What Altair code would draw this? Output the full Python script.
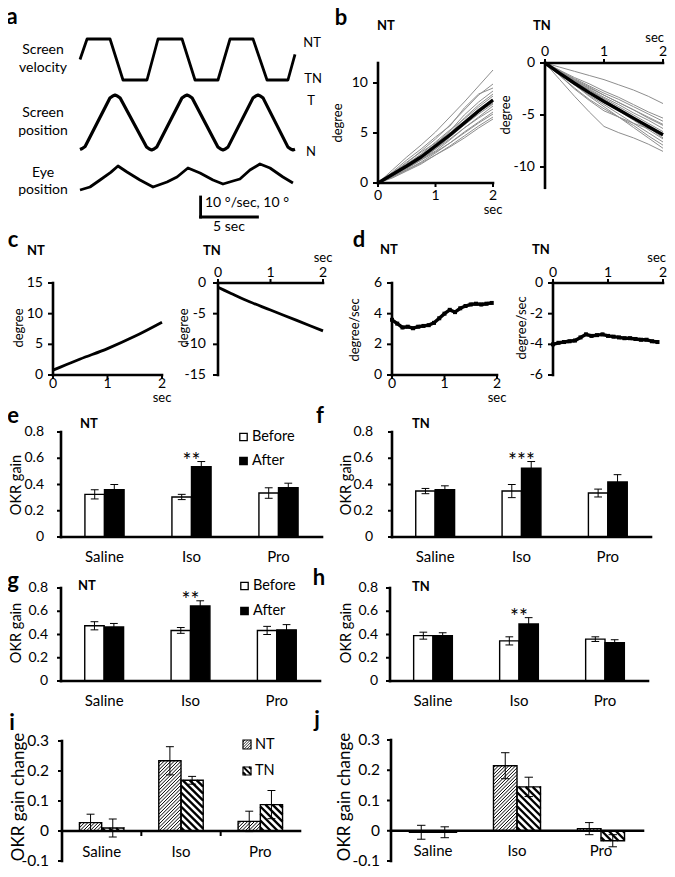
import altair as alt
import pandas as pd

OFF = 8
FONT = "Lato"

# ---------------- data ----------------
# panel a : stimulus / eye traces (time in s)
a_vel_t = [0, 0.62, 2.64, 3.78, 5.89, 6.86, 8.97, 10.11, 12.13, 13.19, 15.21, 16.44, 18.28, 18.9]
a_vel_v = [0, 10, 10, -10, -10, 10, 10, -10, -10, 10, 10, -10, -10, 2.5]
a_pos_t = [0, 0.2, 0.45, 2.63, 2.88, 3.08, 3.28, 3.53, 5.85, 6.1, 6.3, 6.5, 6.75,
           8.96, 9.21, 9.41, 9.61, 9.86, 12.12, 12.37, 12.57, 12.77, 13.02,
           15.2, 15.45, 15.65, 15.85, 16.1, 18.27, 18.52, 18.72, 18.9]
a_pos_v = [-13.5, -13.0, -12.0, 12.2, 13.3, 13.75, 13.3, 12.2, -12.2, -13.3, -13.75, -13.3, -12.2,
           12.2, 13.3, 13.75, 13.3, 12.2, -12.2, -13.3, -13.75, -13.3, -12.2,
           12.2, 13.3, 13.75, 13.3, 12.2, -12.2, -13.3, -13.75, -13.4]
a_eye_t = [0, 0.88, 1.76, 2.7, 3.34, 4.13, 5.27, 6.42, 7.65, 8.53, 9.49, 10.55, 11.69, 12.57, 13.45,
           14.06, 14.94, 15.82, 16.7, 17.84, 18.72]
a_eye_v = [-7.0, -5.5, -2.0, 1.8, 5.0, 2.0, -2.0, -5.5, -3.0, -0.5, 4.0, 1.5, -2.0, -4.0, -2.5,
           -1.5, 3.0, 6.0, 4.0, -0.5, -3.5]
a_bar_origin = (10.6, -20.5)   # scale bar corner (s, deg)
a_bar_len = (5, 10)            # 5 sec, 10 deg

# panel b : individual traces and mean
b_t = [0, 0.25, 0.5, 0.75, 1.0, 1.25, 1.5, 1.75, 2.0]
b_nt_traces = [
    [0, 1.3, 2.6, 3.8, 5.1, 6.6, 8.1, 9.7, 11.3],
    [0, 0.9, 2.0, 3.2, 4.4, 5.8, 7.3, 8.8, 9.9],
    [0, 1.1, 2.3, 3.4, 4.6, 5.7, 7.5, 8.9, 9.5],
    [0, 0.8, 1.7, 2.7, 3.9, 5.2, 6.8, 8.1, 9.2],
    [0, 0.7, 1.6, 2.6, 3.8, 5.0, 6.5, 7.8, 8.9],
    [0, 1.0, 1.9, 2.9, 4.1, 5.3, 6.4, 7.6, 8.7],
    [0, 0.9, 1.8, 2.8, 3.9, 5.0, 6.2, 7.4, 8.4],
    [0, 0.6, 1.4, 2.3, 3.4, 4.6, 5.9, 7.1, 8.1],
    [0, 0.8, 1.6, 2.5, 3.5, 4.6, 5.8, 6.9, 7.9],
    [0, 0.7, 1.5, 2.4, 3.2, 4.3, 5.5, 6.6, 7.7],
    [0, 0.9, 1.7, 2.5, 3.4, 4.4, 5.5, 6.5, 7.4],
    [0, 0.6, 1.3, 2.1, 3.0, 4.0, 5.1, 6.1, 7.1],
    [0, 0.7, 1.5, 2.3, 3.1, 4.0, 5.0, 6.0, 6.9],
    [0, 0.5, 1.2, 1.9, 2.8, 3.7, 4.7, 5.7, 6.6],
    [0, 0.6, 1.3, 2.0, 2.8, 3.6, 4.5, 5.5, 6.4],
    [0, 1.0, 2.1, 3.1, 4.0, 5.0, 6.1, 7.1, 8.0],
]
b_nt_mean = [0, 0.85, 1.7, 2.6, 3.7, 4.8, 6.0, 7.2, 8.3]
b_tn_traces = [
    [0, -0.4, -0.8, -1.2, -1.6, -2.1, -2.6, -3.2, -3.9],
    [0, -0.7, -1.4, -2.0, -2.7, -3.3, -4.0, -4.7, -5.3],
    [0, -0.8, -1.5, -2.2, -2.9, -3.5, -4.2, -4.9, -5.6],
    [0, -0.9, -1.7, -2.4, -3.1, -3.8, -4.5, -5.3, -6.0],
    [0, -0.7, -1.6, -2.5, -3.3, -4.0, -4.8, -5.5, -6.3],
    [0, -0.9, -1.8, -2.6, -3.4, -4.2, -5.0, -5.8, -6.6],
    [0, -1.0, -2.0, -2.8, -3.6, -4.4, -5.3, -6.1, -7.0],
    [0, -0.9, -1.9, -2.9, -3.8, -4.6, -5.5, -6.4, -7.3],
    [0, -1.1, -2.1, -3.1, -4.0, -4.9, -5.8, -6.7, -7.6],
    [0, -1.2, -2.4, -3.5, -4.4, -5.2, -6.0, -7.0, -7.9],
    [0, -1.0, -2.1, -3.2, -4.2, -5.2, -6.2, -7.2, -8.2],
    [0, -1.6, -3.2, -4.7, -6.1, -6.7, -7.2, -7.8, -8.5],
    [0, -1.2, -2.5, -3.6, -4.6, -5.2, -5.8, -6.3, -6.8],
    [0, -0.8, -1.7, -2.6, -3.5, -4.4, -5.3, -6.2, -7.2],
    [0, -0.8, -1.6, -2.3, -3.1, -3.8, -4.5, -5.2, -5.9],
]
b_tn_mean = [0, -1.0, -1.95, -2.85, -3.7, -4.5, -5.3, -6.1, -6.9]

# panel c : model fits
c_t = [0, 0.25, 0.5, 1.0, 1.5, 2.0]
c_nt = [0.8, 1.7, 2.6, 4.3, 6.3, 8.6]
c_tn = [-0.7, -1.7, -2.7, -4.4, -6.1, -7.8]

# panel d : eye velocity
d_t = [0.0, 0.1, 0.2, 0.3, 0.4, 0.5, 0.6, 0.7, 0.8, 0.9, 1.0, 1.1, 1.2, 1.3, 1.4, 1.5, 1.6, 1.7, 1.8, 1.9]
d_nt = [3.6, 3.35, 3.1, 3.15, 3.05, 3.15, 3.2, 3.25, 3.4, 3.7, 4.0, 4.25, 4.1, 4.35, 4.5, 4.6, 4.65, 4.6, 4.65, 4.7]
d_tn = [-4.0, -3.9, -3.85, -3.8, -3.75, -3.55, -3.35, -3.45, -3.4, -3.35, -3.45, -3.5, -3.55, -3.6,
        -3.6, -3.65, -3.7, -3.7, -3.8, -3.85]

# bar panels
groups = ["Saline", "Iso", "Pro"]
e_before, e_before_err = [0.325, 0.305, 0.335], [0.035, 0.02, 0.04]
e_after, e_after_err = [0.36, 0.535, 0.375], [0.04, 0.04, 0.035]
f_before, f_before_err = [0.35, 0.35, 0.335], [0.02, 0.05, 0.03]
f_after, f_after_err = [0.36, 0.525, 0.42], [0.03, 0.05, 0.055]
g_before, g_before_err = [0.475, 0.435, 0.435], [0.035, 0.025, 0.035]
g_after, g_after_err = [0.465, 0.645, 0.44], [0.03, 0.045, 0.045]
h_before, h_before_err = [0.39, 0.345, 0.36], [0.03, 0.035, 0.02]
h_after, h_after_err = [0.39, 0.49, 0.33], [0.025, 0.055, 0.025]
i_nt, i_nt_err = [0.028, 0.234, 0.032], [0.028, 0.047, 0.034]
i_tn, i_tn_err = [0.01, 0.169, 0.088], [0.03, 0.013, 0.047]
j_nt, j_nt_err = [-0.005, 0.215, 0.007], [0.023, 0.043, 0.02]
j_tn, j_tn_err = [-0.005, 0.145, -0.033], [0.018, 0.032, 0.02]

gain_ticks = [0, 0.2, 0.4, 0.6, 0.8]
gain_labels = ["0", "0.2", "0.4", "0.6", "0.8"]
chg_ticks = [-0.1, 0, 0.1, 0.2, 0.3]
chg_labels = ["-0.1", "0", "0.1", "0.2", "0.3"]


# ---------------- helpers ----------------
class Lin:
    def __init__(self, d0, d1, r0, r1):
        self.d0, self.d1, self.r0, self.r1 = d0, d1, r0, r1

    def px(self, v):
        return self.r0 + (v - self.d0) * (self.r1 - self.r0) / (self.d1 - self.d0)

    def val(self, p):
        return self.d0 + (p - self.r0) * (self.d1 - self.d0) / (self.r1 - self.r0)

    def scale(self):
        return alt.Scale(domain=[self.d0, self.d1], range=[self.r0 - OFF, self.r1 - OFF],
                         nice=False, zero=False)


def enc(sx, sy, xf, yf, **kw):
    d = dict(x=alt.X(xf, scale=sx.scale(), axis=None), y=alt.Y(yf, scale=sy.scale(), axis=None))
    d.update(kw)
    return d


def texts(items, size=14, weight="normal", align="center", baseline="middle", angle=0):
    df = pd.DataFrame({"x": [it[0] - OFF for it in items], "y": [it[1] - OFF for it in items],
                       "t": [it[2] for it in items]})
    mk = dict(font=FONT, fontSize=size, fontWeight=weight, align=align, baseline=baseline, color="black")
    if angle:
        mk["angle"] = angle
    return alt.Chart(df).mark_text(**mk).encode(
        x=alt.X("x:Q", scale=None, axis=None), y=alt.Y("y:Q", scale=None, axis=None), text="t:N")


def line_axes(sx, sy, xticks, yticks, ylabels, top, xdy, secdy, ydx=-9, size=14, lw=2.6,
              sec_align="center", sec_dx=0):
    x0, x1 = sx.d0, sx.d1
    lines = pd.DataFrame({"x": [x0, x0], "x2": [x0, x1], "y": [sy.d0, 0.0], "y2": [sy.d1, 0.0]})
    L = [alt.Chart(lines).mark_rule(color="black", strokeWidth=lw, strokeCap="square").encode(
        **enc(sx, sy, "x:Q", "y:Q", x2="x2:Q", y2="y2:Q"))]
    yt = pd.DataFrame({"x": [x0] * len(yticks), "y": yticks, "lab": ylabels})
    L.append(alt.Chart(yt).mark_rule(color="black", strokeWidth=2, x2Offset=-5).encode(
        **enc(sx, sy, "x:Q", "y:Q", x2="x:Q")))
    L.append(alt.Chart(yt).mark_text(font=FONT, fontSize=size, align="right", baseline="middle",
                                     dx=ydx).encode(**enc(sx, sy, "x:Q", "y:Q", text="lab:N")))
    xt = pd.DataFrame({"x": xticks, "y": [0.0] * len(xticks), "lab": [str(v) for v in xticks]})
    L.append(alt.Chart(xt).mark_rule(color="black", strokeWidth=2, y2Offset=(-4 if top else 4)).encode(
        **enc(sx, sy, "x:Q", "y:Q", y2="y:Q")))
    L.append(alt.Chart(xt).mark_text(font=FONT, fontSize=size, align="center", baseline="middle",
                                     dy=(-xdy if top else xdy)).encode(
        **enc(sx, sy, "x:Q", "y:Q", text="lab:N")))
    sec = pd.DataFrame({"x": [x1], "y": [0.0], "lab": ["sec"]})
    L.append(alt.Chart(sec).mark_text(font=FONT, fontSize=13, align=sec_align, baseline="middle",
                                      dx=sec_dx, dy=(-secdy if top else secdy)).encode(
        **enc(sx, sy, "x:Q", "y:Q", text="lab:N")))
    return L


def hatch_segments(X0, X1, Ytop, Ybot, step, direction):
    W = X1 - X0
    Hh = Ybot - Ytop
    segs = []
    if direction == "/":
        c = -W + step / 2
        while c < Hh:
            ua, ub = max(0, -c), min(W, Hh - c)
            if ub > ua:
                segs.append((X0 + ua, Ybot - (ua + c), X0 + ub, Ybot - (ub + c)))
            c += step
    else:
        c = step / 2
        while c < W + Hh:
            ua, ub = max(0, c - Hh), min(W, c)
            if ub > ua:
                segs.append((X0 + ua, Ybot - (c - ua), X0 + ub, Ybot - (c - ub)))
            c += step
    return segs


HATCH = {0: ("/", 3.4, 1.0), 1: ("\\", 7.0, 2.4)}


def bar_panel(sx, sy, s1, e1, s2, e2, half, yticks, ylabels, ydx, cat_dy, mode,
              stars=None, star_dy=3, between=None, size=14, catsize=15, capw=0.045):
    rows = []
    for gi in range(len(groups)):
        rows.append(dict(g=gi, s=0, x=gi - half, x2=gi, v=s1[gi], e=e1[gi]))
        rows.append(dict(g=gi, s=1, x=gi, x2=gi + half, v=s2[gi], e=e2[gi]))
    df = pd.DataFrame(rows)
    df["c"] = (df.x + df.x2) / 2
    df["lo"] = df.v - df.e
    df["hi"] = df.v + df.e
    df["z"] = 0.0
    df["cl"] = df.c - capw
    df["cr"] = df.c + capw
    df["fill"] = ["white" if s == 0 else "black" for s in df.s]
    L = []
    if mode == "fill":
        L.append(alt.Chart(df).mark_rect(stroke="black", strokeWidth=1.4).encode(
            **enc(sx, sy, "x:Q", "v:Q", x2="x2:Q", y2="z:Q", fill=alt.Fill("fill:N", scale=None))))
    else:
        L.append(alt.Chart(df).mark_rect(fill="white").encode(**enc(sx, sy, "x:Q", "v:Q", x2="x2:Q", y2="z:Q")))
        for s in (0, 1):
            dirn, step, w = HATCH[s]
            segs = []
            for _, r in df[df.s == s].iterrows():
                top, bot = max(r.v, 0.0), min(r.v, 0.0)
                for (ax, ay, bx, by) in hatch_segments(sx.px(r.x), sx.px(r.x2), sy.px(top), sy.px(bot), step, dirn):
                    segs.append(dict(x=sx.val(ax), y=sy.val(ay), x2=sx.val(bx), y2=sy.val(by)))
            hd = pd.DataFrame(segs)
            L.append(alt.Chart(hd).mark_rule(color="black", strokeWidth=w).encode(
                **enc(sx, sy, "x:Q", "y:Q", x2="x2:Q", y2="y2:Q")))
        L.append(alt.Chart(df).mark_rect(fill=None, stroke="black", strokeWidth=1.4).encode(
            **enc(sx, sy, "x:Q", "v:Q", x2="x2:Q", y2="z:Q")))
    # error bars
    L.append(alt.Chart(df).mark_rule(color="black", strokeWidth=1).encode(**enc(sx, sy, "c:Q", "lo:Q", y2="hi:Q")))
    caps = pd.concat([df.assign(yy=df.lo), df.assign(yy=df.hi)])
    L.append(alt.Chart(caps).mark_rule(color="black", strokeWidth=1).encode(**enc(sx, sy, "cl:Q", "yy:Q", x2="cr:Q")))
    # axes
    ax = pd.DataFrame({"x": [-0.5, -0.5], "x2": [-0.5, 2.5], "y": [sy.d0, 0.0], "y2": [sy.d1, 0.0]})
    L.append(alt.Chart(ax).mark_rule(color="black", strokeWidth=2.6, strokeCap="square").encode(
        **enc(sx, sy, "x:Q", "y:Q", x2="x2:Q", y2="y2:Q")))
    yt = pd.DataFrame({"x": [-0.5] * len(yticks), "y": yticks, "lab": ylabels})
    L.append(alt.Chart(yt).mark_rule(color="black", strokeWidth=2, x2Offset=-4).encode(
        **enc(sx, sy, "x:Q", "y:Q", x2="x:Q")))
    L.append(alt.Chart(yt).mark_text(font=FONT, fontSize=size, align="right", baseline="middle", dx=ydx).encode(
        **enc(sx, sy, "x:Q", "y:Q", text="lab:N")))
    if between:
        bt = pd.DataFrame({"x": between, "y": [0.0] * len(between)})
        L.append(alt.Chart(bt).mark_rule(color="black", strokeWidth=2, y2Offset=5).encode(
            **enc(sx, sy, "x:Q", "y:Q", y2="y:Q")))
    cat = pd.DataFrame({"x": list(range(len(groups))), "y": [0.0] * len(groups), "lab": groups})
    L.append(alt.Chart(cat).mark_text(font=FONT, fontSize=catsize, align="center", baseline="middle", dy=cat_dy).encode(
        **enc(sx, sy, "x:Q", "y:Q", text="lab:N")))
    if stars:
        sg = 1
        top = float(df[df.g == sg].hi.max())
        st = pd.DataFrame({"x": [sg], "y": [top], "lab": [stars]})
        L.append(alt.Chart(st).mark_text(font=FONT, fontSize=21, align="center", baseline="alphabetic", dy=star_dy).encode(
            **enc(sx, sy, "x:Q", "y:Q", text="lab:N")))
    return alt.layer(*L)


def gray_traces(traces, t, sx, sy):
    rows = []
    for k, tr in enumerate(traces):
        for tt, vv in zip(t, tr):
            rows.append(dict(id=k, t=tt, v=vv))
    return alt.Chart(pd.DataFrame(rows)).mark_line(color="#8e8e8e", strokeWidth=1).encode(
        **enc(sx, sy, "t:Q", "v:Q", detail="id:N"))


def black_line(t, v, sx, sy, w=3, interp="linear"):
    return alt.Chart(pd.DataFrame({"t": t, "v": v})).mark_line(
        color="black", strokeWidth=w, interpolate=interp, strokeJoin="round").encode(**enc(sx, sy, "t:Q", "v:Q"))


layers = []

# ---------------- panel a ----------------
sx_a = Lin(0, 18.9, 80, 295)
vel_y = Lin(-10, 10, 80, 39)
pos_y = Lin(-13.75, 13.75, 150, 95)
eye_y = Lin(-6, 6, 188, 164)
layers.append(black_line(a_vel_t, a_vel_v, sx_a, vel_y, w=2.8))
layers.append(black_line(a_pos_t, a_pos_v, sx_a, pos_y, w=3.2))
bo = a_bar_origin
sb = pd.DataFrame({"x": [bo[0], bo[0]], "x2": [bo[0], bo[0] + a_bar_len[0]],
                   "y": [bo[1], bo[1]], "y2": [bo[1] + a_bar_len[1], bo[1]]})
layers.append(alt.layer(
    black_line(a_eye_t, a_eye_v, sx_a, eye_y, w=2.8),
    alt.Chart(sb).mark_rule(color="black", strokeWidth=2.8, strokeCap="square").encode(
        **enc(sx_a, eye_y, "x:Q", "y:Q", x2="x2:Q", y2="y2:Q"))))
layers.append(texts([(43, 50, "Screen"), (43, 68, "velocity"), (43, 113, "Screen"), (43, 131, "position"),
                     (43, 173, "Eye"), (43, 190, "position"), (229, 227, "5 sec")], size=14))
layers.append(texts([(312, 43, "NT"), (313, 79, "TN"), (311, 101, "T"), (311, 152, "N")], size=13))
layers.append(texts([(205, 203, "10 °/sec, 10 °")], size=14, align="left"))

# ---------------- panel b ----------------
sx = Lin(0, 2, 378, 493); sy = Lin(0, 12, 183, 63)
layers.append(alt.layer(gray_traces(b_nt_traces, b_t, sx, sy), black_line(b_t, b_nt_mean, sx, sy, w=3.4),
                        *line_axes(sx, sy, [0, 1, 2], [0, 5, 10], ["0", "5", "10"], False, 13, 27, ydx=-10)))
sx = Lin(0, 2, 545, 663); sy = Lin(-12, 0, 187.8, 63)
layers.append(alt.layer(gray_traces(b_tn_traces, b_t, sx, sy), black_line(b_t, b_tn_mean, sx, sy, w=3.4),
                        *line_axes(sx, sy, [0, 1, 2], [0, -5, -10], ["0", "-5", "-10"], True, 11, 25, ydx=-10,
                                   sec_align="right", sec_dx=1)))

# ---------------- panel c ----------------
sx = Lin(0, 2, 53, 162); sy = Lin(0, 15, 375, 283)
layers.append(alt.layer(black_line(c_t, c_nt, sx, sy, w=2.8, interp="monotone"),
                        *line_axes(sx, sy, [0, 1, 2], [0, 5, 10, 15], ["0", "5", "10", "15"], False, 9, 23, ydx=-10)))
sx = Lin(0, 2, 218, 323); sy = Lin(-15, 0, 375, 283)
layers.append(alt.layer(black_line(c_t, c_tn, sx, sy, w=2.8, interp="monotone"),
                        *line_axes(sx, sy, [0, 1, 2], [0, -5, -10, -15], ["0", "-5", "-10", "-15"], True, 10, 25, ydx=-12)))

# ---------------- panel d ----------------
def noisy(t, v, sx, sy):
    df = pd.DataFrame({"t": t, "v": v})
    return alt.layer(
        alt.Chart(df).mark_line(color="black", strokeWidth=3.4).encode(**enc(sx, sy, "t:Q", "v:Q")),
        alt.Chart(df).mark_square(color="black", size=16, opacity=1).encode(**enc(sx, sy, "t:Q", "v:Q")))

sx = Lin(0, 2, 392, 497); sy = Lin(0, 6, 375, 283)
layers.append(alt.layer(noisy(d_t, d_nt, sx, sy),
                        *line_axes(sx, sy, [0, 1, 2], [0, 2, 4, 6], ["0", "2", "4", "6"], False, 9, 23, ydx=-10)))
sx = Lin(0, 2, 553, 663); sy = Lin(-6, 0, 375, 283)
layers.append(alt.layer(noisy(d_t, d_tn, sx, sy),
                        *line_axes(sx, sy, [0, 1, 2], [0, -2, -4, -6], ["0", "-2", "-4", "-6"], True, 10, 25, ydx=-10,
                                   sec_align="right", sec_dx=3)))

# ---------------- panels e-h ----------------
layers.append(bar_panel(Lin(-0.5, 2.5, 61, 322), Lin(0, 0.8, 537, 432), e_before, e_before_err, e_after, e_after_err,
                        0.225, gain_ticks, gain_labels, -17, 20, "fill", stars="**", star_dy=6))
layers.append(bar_panel(Lin(-0.5, 2.5, 392, 651), Lin(0, 0.8, 537, 432), f_before, f_before_err, f_after, f_after_err,
                        0.225, gain_ticks, gain_labels, -19, 20, "fill", stars="***", star_dy=6))
layers.append(bar_panel(Lin(-0.5, 2.5, 61, 320), Lin(0, 0.8, 681, 588), g_before, g_before_err, g_after, g_after_err,
                        0.225, gain_ticks, gain_labels, -13, 20, "fill", stars="**", star_dy=6))
layers.append(bar_panel(Lin(-0.5, 2.5, 390, 648), Lin(0, 0.8, 681, 588), h_before, h_before_err, h_after, h_after_err,
                        0.225, gain_ticks, gain_labels, -12, 20, "fill", stars="**", star_dy=6))

# ---------------- panels i-j ----------------
layers.append(bar_panel(Lin(-0.5, 2.5, 62, 300), Lin(-0.1, 0.3, 861, 741), i_nt, i_nt_err, i_tn, i_tn_err,
                        0.28, chg_ticks, chg_labels, -13, 21, "hatch", between=[0.5, 1.5], size=15.5, capw=0.05))
layers.append(bar_panel(Lin(-0.5, 2.5, 391, 643), Lin(-0.1, 0.3, 861, 740), j_nt, j_nt_err, j_tn, j_tn_err,
                        0.28, chg_ticks, chg_labels, -11, 20, "hatch", size=15.5, capw=0.05))

# ---------------- legends ----------------
sq = pd.DataFrame({"x": [243.5 - OFF, 243.5 - OFF, 244.5 - OFF, 244.5 - OFF],
                   "y": [437 - OFF, 461 - OFF, 586 - OFF, 611 - OFF],
                   "fill": ["white", "black", "white", "black"]})
layers.append(alt.Chart(sq).mark_square(size=55, stroke="black", strokeWidth=1.3, opacity=1).encode(
    x=alt.X("x:Q", scale=None, axis=None), y=alt.Y("y:Q", scale=None, axis=None),
    fill=alt.Fill("fill:N", scale=None)))
layers.append(texts([(252, 437, "Before"), (252, 461, "After"), (253, 586, "Before"), (253, 611, "After")],
                    size=14.5, align="left"))

# hatched legend glyphs for i
lg_boxes = [(243, 251, 740, 749, 0), (243, 251, 767, 775, 1)]
box_rows, seg_rows = [], []
for (x0, x1, y0, y1, s) in lg_boxes:
    box_rows.append(dict(x=x0 - OFF, x2=x1 - OFF, y=y0 - OFF, y2=y1 - OFF))
    dirn, step, w = HATCH[s]
    for (ax_, ay, bx, by) in hatch_segments(x0, x1, y0, y1, step * 0.8, dirn):
        seg_rows.append(dict(x=ax_ - OFF, y=ay - OFF, x2=bx - OFF, y2=by - OFF, w=w * 0.8))
boxdf = pd.DataFrame(box_rows)
segdf = pd.DataFrame(seg_rows)
PX = dict(x=alt.X("x:Q", scale=None, axis=None), y=alt.Y("y:Q", scale=None, axis=None), x2="x2:Q", y2="y2:Q")
layers.append(alt.Chart(segdf).mark_rule(color="black").encode(strokeWidth=alt.StrokeWidth("w:Q", scale=None), **PX))
layers.append(alt.Chart(boxdf).mark_rect(fill=None, stroke="black", strokeWidth=1.2).encode(**PX))
layers.append(texts([(255, 745, "NT"), (255, 771, "TN")], size=14.5, align="left"))

# ---------------- titles / letters ----------------
layers.append(texts([(12, 24, "a"), (341, 25, "b"), (13, 247, "c"), (359, 247, "d"), (13, 423, "e"),
                     (320, 423, "f"), (13, 588, "g"), (319, 585, "h"), (12, 730, "i"), (317, 727, "j")],
                    size=22, weight="bold", baseline="alphabetic"))
layers.append(texts([(377, 30, "NT"), (533, 30, "TN"), (27, 255, "NT"), (203, 255, "TN"), (380, 254, "NT"),
                     (532, 254, "TN"), (80, 428, "NT"), (412, 428, "TN"), (78, 590, "NT"), (412, 591, "TN")],
                    size=13, weight="bold", align="left", baseline="alphabetic"))
layers.append(texts([(338, 123, "degree"), (506, 115, "degree"), (19, 328, "degree"), (184, 328, "degree")],
                    size=13, angle=270))
layers.append(texts([(355, 330, "degree/sec"), (522, 328, "degree/sec")], size=13, angle=270))
layers.append(texts([(17, 485, "OKR gain"), (347, 485, "OKR gain"), (17, 633, "OKR gain"), (347, 633, "OKR gain")],
                    size=14.5, angle=270))
layers.append(texts([(19, 797, "OKR gain change"), (345, 797, "OKR gain change")], size=17, angle=270))

chart = alt.layer(*layers).resolve_scale(x="independent", y="independent").properties(
    width=675 - 2 * OFF, height=877 - 2 * OFF, padding=0,
    autosize=alt.AutoSizeParams(type="none"),
    background="white",
).configure_view(stroke=None)

chart.save("out.html", embed_options={"renderer": "svg", "actions": False})
